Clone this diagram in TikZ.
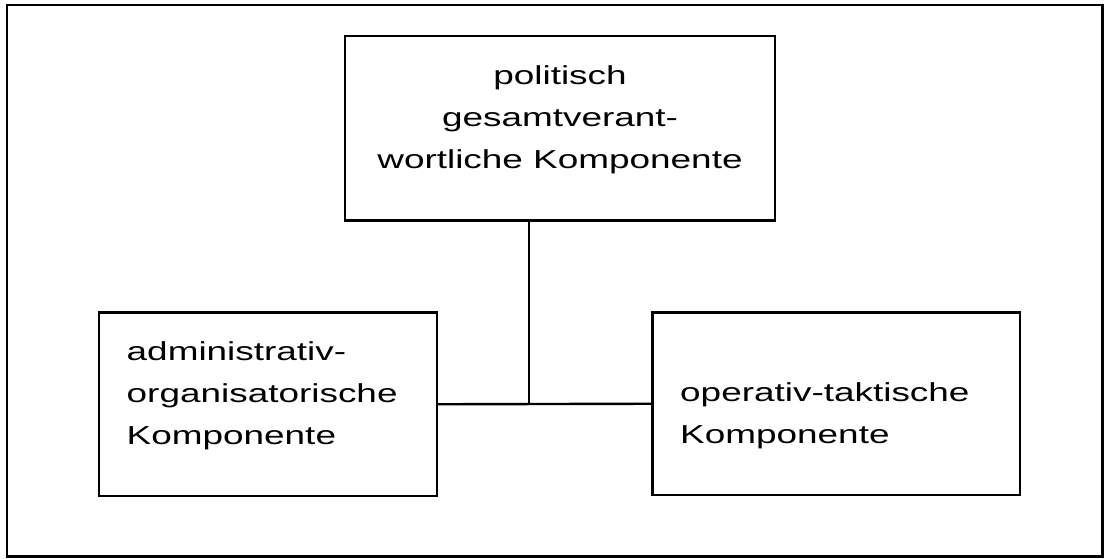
\documentclass[tikz,border=0pt]{standalone}
\usepackage{fontspec}
\setmainfont{Liberation Sans}[FakeStretch=1.42]
\begin{document}
\begin{tikzpicture}[x=1pt,y=-1pt,
  box/.style={draw=black,line width=2.4pt,rectangle,inner sep=0pt},
  lbl/.style={inner sep=0pt,font=\fontsize{26}{42}\selectfont,text=black},
  conn/.style={draw=black,line width=2.4pt}]
\useasboundingbox (0,0) rectangle (1104,558);
\node[draw=black,line width=2.8pt,rectangle,inner sep=0pt,minimum width=1095.5pt,minimum height=551.5pt] (frame) at (554.75,280.75) {};
\node[box,minimum width=430pt,minimum height=184.5pt] (top) at (560,128.25) {};
\node[box,minimum width=338pt,minimum height=183.5pt] (left) at (268,404.25) {};
\node[box,minimum width=367.5pt,minimum height=182.5pt] (right) at (836.25,403.75) {};
\node[lbl,align=center,anchor=base] (toptext) at (560,168) {politisch\\gesamtverant-\\wortliche Komponente};
\node[lbl,align=left,anchor=base west] (lefttext) at (126.5,444) {administrativ-\\organisatorische\\Komponente};
\node[lbl,align=left,anchor=base west] (righttext) at (680,443) {operativ-taktische\\Komponente};
\coordinate (j) at (529,403.5);
\draw[conn] (left.east) -- (right.west);
\draw[conn] (top.south -| j) -- (j);
\end{tikzpicture}
\end{document}
